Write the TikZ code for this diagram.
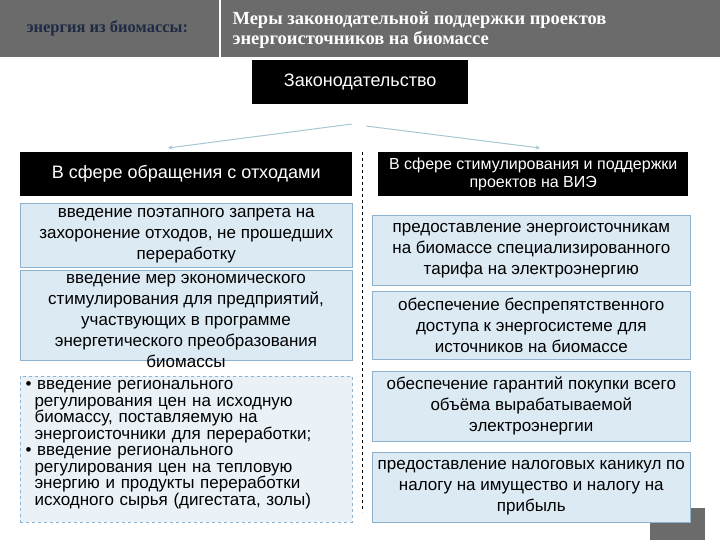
\documentclass[tikz,border=0pt]{standalone}
\usepackage{fontspec}
\setmainfont{Liberation Sans}
\newfontfamily\serifb{Liberation Serif}
\definecolor{hdr}{HTML}{6B6B6B}
\definecolor{navy}{HTML}{1F2A44}
\definecolor{lb}{HTML}{DCEAF4}
\definecolor{lbd}{HTML}{8FB2CF}
\definecolor{arr}{HTML}{A9C6D4}
\begin{document}
\begin{tikzpicture}[x=1pt,y=-1pt,
 blk/.style={fill=black,text=white,font=\fontsize{16}{18}\selectfont,align=center,inner sep=0pt,anchor=north west},
 lbox/.style={fill=lb,draw=lbd,line width=0.6pt,font=\fontsize{17}{21}\selectfont,align=center,inner sep=0pt,anchor=north west},
 conn/.style={draw=arr,line width=1pt,-stealth}]
\useasboundingbox (0,0) rectangle (720,540);
\fill[hdr] (0,0) rectangle (720,57);
\draw[white,line width=2pt] (220,0) -- (220,57);
\node[anchor=west,text=navy,font=\serifb\bfseries\fontsize{16.5}{18}\selectfont] (h1) at (23,28) {энергия из биомассы:};
\node[anchor=west,text=white,font=\serifb\bfseries\fontsize{18.5}{20}\selectfont,align=left] (h2) at (229,30) {Меры законодательной поддержки проектов\\энергоисточников на биомассе};
\node[blk,minimum width=216,minimum height=44,font=\fontsize{18}{20}\selectfont] (law) at (252,60) {Законодательство};
\node[blk,minimum width=332,minimum height=44,font=\fontsize{18}{20}\selectfont] (L) at (20,152) {В сфере обращения с отходами};
\node[blk,minimum width=310,minimum height=44] (R) at (378,152) {В сфере стимулирования и поддержки\\проектов на ВИЭ};
\coordinate (la) at (352,124); \coordinate (ra) at (366,126);
\coordinate (lt) at (168,148); \coordinate (rt) at (540,148);
\draw[conn] (la) -- (lt);
\draw[conn] (ra) -- (rt);
\coordinate (d1) at (362,152); \coordinate (d2) at (362,512);
\draw[dashed,line width=0.6pt] (d1) -- (d2);
\node[lbox,minimum width=332,minimum height=64] (L1) at (20,203) {введение поэтапного запрета на\\захоронение отходов, не прошедших\\переработку};
\node[lbox,minimum width=332,minimum height=90] (L2) at (20,270) {};
\node[anchor=north,font=\fontsize{17}{21}\selectfont,align=center] (L2t) at (186,271) {введение мер экономического\\стимулирования для предприятий,\\участвующих в программе\\энергетического преобразования\\биомассы};
\node[lbox,draw=lbd,dashed,fill=lb!60,minimum width=332,minimum height=146] (L3) at (20,376) {};
\node[anchor=north west,font=\fontsize{17}{16.5}\selectfont,align=left,text width=325] (L3t) at (22,377) {\textbullet\ введение регионального\\\hspace*{9pt}регулирования цен на исходную\\\hspace*{9pt}биомассу, поставляемую на\\\hspace*{9pt}энергоисточники для переработки;\\\textbullet\ введение регионального\\\hspace*{9pt}регулирования цен на тепловую\\\hspace*{9pt}энергию и продукты переработки\\\hspace*{9pt}исходного сырья (дигестата, золы)};
\node[lbox,minimum width=318,minimum height=70] (R1) at (372,215) {предоставление энергоисточникам\\на биомассе специализированного\\тарифа на электроэнергию};
\node[lbox,minimum width=318,minimum height=68] (R2) at (372,291) {обеспечение беспрепятственного\\доступа к энергосистеме для\\источников на биомассе};
\node[lbox,minimum width=318,minimum height=70] (R3) at (372,371) {обеспечение гарантий покупки всего\\объёма вырабатываемой\\электроэнергии};
\fill[hdr] (650,508) rectangle (705,540);
\node[lbox,minimum width=318,minimum height=70] (R4) at (372,452) {предоставление налоговых каникул по\\налогу на имущество и налогу на\\прибыль};
\end{tikzpicture}
\end{document}
